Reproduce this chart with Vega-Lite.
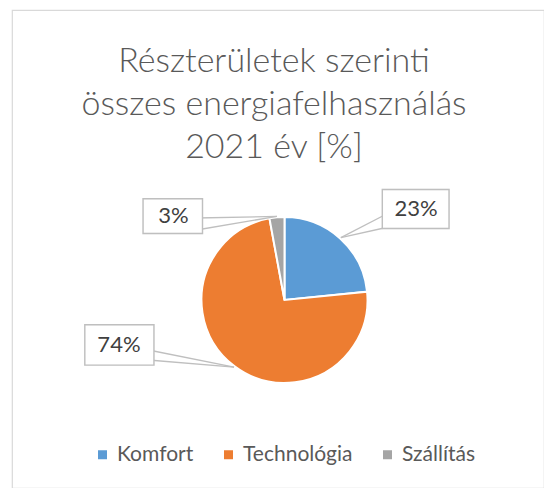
{
  "$schema": "https://vega.github.io/schema/vega-lite/v6.json",
  "width": 532,
  "height": 478,
  "autosize": {"type": "none"},
  "padding": {"left": 12, "top": 10, "right": 0, "bottom": 0},
  "background": "white",
  "view": {"stroke": "#D9D9D9", "strokeWidth": 1.2},
  "title": {
    "text": ["Részterületek szerinti", "összes energiafelhasználás", "2021 év [%]"],
    "font": "Lato",
    "fontSize": 34,
    "fontWeight": 300,
    "color": "#595959",
    "lineHeight": 43,
    "anchor": "middle",
    "frame": "group",
    "baseline": "bottom",
    "offset": -189,
    "dx": -4
  },
  "config": {"view": {"stroke": "#D9D9D9", "strokeWidth": 1.2}},
  "data": {
    "values": [
      {"kat": "Komfort", "arany": 0.234, "sorrend": 1},
      {"kat": "Technológia", "arany": 0.737, "sorrend": 2},
      {"kat": "Szállítás", "arany": 0.029, "sorrend": 3}
    ]
  },
  "layer": [
    {
      "mark": {
        "type": "arc",
        "outerRadius": 83,
        "stroke": "white",
        "strokeWidth": 2,
        "x": {"expr": "width/2+6.5"},
        "y": {"expr": "height/2+51"}
      },
      "encoding": {
        "theta": {"field": "arany", "type": "quantitative", "stack": true},
        "order": {"field": "sorrend", "type": "quantitative"},
        "color": {
          "field": "kat",
          "type": "nominal",
          "scale": {"domain": ["Komfort", "Technológia", "Szállítás"], "range": ["#5B9BD5", "#ED7D31", "#A5A5A5"]},
          "legend": {
            "orient": "none",
            "legendX": 80,
            "legendY": 434,
            "direction": "horizontal",
            "title": null,
            "symbolType": "square",
            "symbolSize": 81,
            "symbolStrokeWidth": 0,
            "labelFont": "Lato",
            "labelFontSize": 21,
            "labelColor": "#595959",
            "labelOffset": 4,
            "columnPadding": 24,
            "padding": 0
          }
        }
      }
    },
    {
      "transform": [
        {"stack": "arany", "groupby": [], "sort": [{"field": "sorrend", "order": "ascending"}], "as": ["s0", "s1"]}
      ],
      "mark": {"type": "rule", "stroke": "#BFBFBF", "strokeWidth": 1.3},
      "encoding": {
        "x": {"value": {"expr": "width/2+6.5+84*sin(PI*(datum.s0+datum.s1))"}},
        "y": {"value": {"expr": "height/2+51-84*cos(PI*(datum.s0+datum.s1))"}},
        "x2": {"value": {"expr": "width/2+6.5+(datum.kat==='Komfort'?104:datum.kat==='Technológia'?-136:-88)"}},
        "y2": {"value": {"expr": "height/2+51+(datum.kat==='Komfort'?-87:datum.kat==='Technológia'?50:-82)"}}
      }
    },
    {
      "transform": [
        {"stack": "arany", "groupby": [], "sort": [{"field": "sorrend", "order": "ascending"}], "as": ["s0", "s1"]}
      ],
      "mark": {"type": "rule", "stroke": "#BFBFBF", "strokeWidth": 1.3},
      "encoding": {
        "x": {"value": {"expr": "width/2+6.5+84*sin(PI*(datum.s0+datum.s1))"}},
        "y": {"value": {"expr": "height/2+51-84*cos(PI*(datum.s0+datum.s1))"}},
        "x2": {"value": {"expr": "width/2+6.5+(datum.kat==='Komfort'?104:datum.kat==='Technológia'?-136:-88)"}},
        "y2": {"value": {"expr": "height/2+51+(datum.kat==='Komfort'?-73:datum.kat==='Technológia'?60:-70)"}}
      }
    },
    {
      "mark": {
        "type": "text",
        "text": "█",
        "font": "Liberation Sans",
        "angle": 90,
        "fill": "white",
        "stroke": "#BFBFBF",
        "strokeWidth": 1.4,
        "radius": 130,
        "align": "center",
        "baseline": "middle",
        "x": {"expr": "width/2+6.5"},
        "y": {"expr": "height/2+51"},
        "fontSize": {"expr": "datum.kat==='Komfort'?55:datum.kat==='Technológia'?57:49"},
        "dx": {"expr": "datum.kat==='Komfort'?5.4:datum.kat==='Technológia'?-59:45.5"},
        "dy": {"expr": "datum.kat==='Komfort'?-44.3:datum.kat==='Technológia'?87.5:99.2"}
      },
      "encoding": {
        "theta": {"field": "arany", "type": "quantitative", "stack": true},
        "order": {"field": "sorrend", "type": "quantitative"},
        "detail": {"field": "kat", "type": "nominal"}
      }
    },
    {
      "mark": {
        "type": "text",
        "font": "Lato",
        "fontSize": 22,
        "fill": "#404040",
        "radius": 130,
        "align": "center",
        "baseline": "middle",
        "x": {"expr": "width/2+6.5"},
        "y": {"expr": "height/2+51"},
        "dx": {"expr": "datum.kat==='Komfort'?44.3:datum.kat==='Technológia'?-87.5:-99.2"},
        "dy": {"expr": "datum.kat==='Komfort'?5.4:datum.kat==='Technológia'?-59:45.5"}
      },
      "encoding": {
        "theta": {"field": "arany", "type": "quantitative", "stack": true},
        "order": {"field": "sorrend", "type": "quantitative"},
        "detail": {"field": "kat", "type": "nominal"},
        "text": {"field": "arany", "type": "quantitative", "format": ".0%"}
      }
    }
  ]
}
